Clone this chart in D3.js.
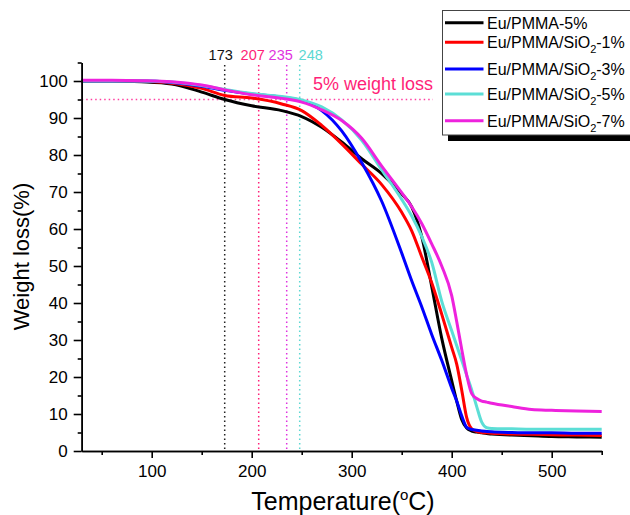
<!DOCTYPE html>
<html>
<head>
<meta charset="utf-8">
<script src="https://cdn.jsdelivr.net/npm/d3@7/dist/d3.min.js"></script>
<style>
  html, body { margin: 0; padding: 0; background: #fff; }
  svg { display: block; font-family: "Liberation Sans", Arial, sans-serif; }
</style>
</head>
<body>
<svg id="chart" width="630" height="515"></svg>
<script>
// TGA curves: temperature grid (°C) and residual weight (%) per sample
const temps = [30, 60, 90, 120, 150, 173, 200, 230, 250, 270, 290, 310, 330, 350, 360, 370,
               380, 390, 400, 405, 410, 415, 420, 425, 430, 435, 440, 460, 480, 500, 525, 550];

const pmma5 = [100, 100, 99.8, 99.2, 97, 95, 93.3, 92, 90.4, 87.5, 83.5, 79, 75, 69.5, 66, 58,
               44.5, 30.5, 19, 13.5, 8.5, 6.2, 5.4, 5.1, 4.9, 4.7, 4.6, 4.3, 4.1, 3.9, 3.8, 3.7];
const sio2_1 = [100, 100, 99.9, 99.4, 98, 96.1, 95.4, 93.8, 92, 88, 83, 77.5, 72, 64.5, 59.5, 52.5,
                45.5, 37, 28, 23.5, 16.5, 9, 6, 5.3, 5.0, 4.9, 4.8, 4.6, 4.5, 4.4, 4.3, 4.2];
const sio2_3 = [100, 100, 100, 99.6, 98.6, 97.5, 96.5, 95.6, 94.7, 92, 86.5, 78, 67.5, 53.5, 46, 39,
                31.5, 24.5, 17, 13.5, 9.5, 6.4, 5.8, 5.6, 5.4, 5.3, 5.2, 5.0, 4.9, 4.9, 4.8, 4.8];
const sio2_5 = [100, 100, 100, 99.7, 98.8, 97.7, 96.6, 95.8, 94.9, 93, 89.5, 84, 76, 68, 63.5, 58,
                51, 40.5, 32.5, 28.5, 24.5, 20.5, 16.5, 12, 7.8, 6.3, 6.1, 6.0, 5.9, 5.9, 5.9, 5.9];
const sio2_7 = [100.2, 100.2, 100.1, 99.8, 98.9, 97.6, 96.3, 95.3, 94.3, 92.2, 89.3, 84.5, 77, 69.8, 66, 61.5,
                56, 50, 42, 35, 27.5, 20.5, 15.5, 14.2, 13.5, 13.2, 12.9, 12, 11.2, 11, 10.8, 10.7];

const seriesNames = ["Eu/PMMA-5%", "Eu/PMMA/SiO2-1%", "Eu/PMMA/SiO2-3%", "Eu/PMMA/SiO2-5%", "Eu/PMMA/SiO2-7%"];
const seriesValues = [pmma5, sio2_1, sio2_3, sio2_5, sio2_7];
const seriesColors = ["#000000", "#ff0000", "#0000ff", "#5cded6", "#ee22dd"];

// temperatures at 5% weight loss
const onsetTemps = [173, 207, 235, 248];
const onsetColors = ["#222222", "#ff1f78", "#e033e0", "#5cd8d2"];
const lossLevel = 95;

const xTicks = [100, 200, 300, 400, 500];
const yTicks = [0, 10, 20, 30, 40, 50, 60, 70, 80, 90, 100];

const svg = d3.select("#chart");
svg.append("rect").attr("width", 630).attr("height", 515).attr("fill", "#fff");

const x = d3.scaleLinear().domain([30, 550]).range([81.7, 601.7]);
const y = d3.scaleLinear().domain([0, 105]).range([451, 62.5]);

// reference lines
svg.append("line")
  .attr("x1", x(30)).attr("x2", 433)
  .attr("y1", y(lossLevel)).attr("y2", y(lossLevel))
  .attr("stroke", "#ff3fa0").attr("stroke-width", 1.5)
  .attr("stroke-dasharray", "1.5,3");

const labelNudge = [-4, -6, -6, 11];
onsetTemps.forEach((t, i) => {
  svg.append("line")
    .attr("x1", x(t)).attr("x2", x(t))
    .attr("y1", 65).attr("y2", y(0))
    .attr("stroke", onsetColors[i]).attr("stroke-width", 1.5)
    .attr("stroke-dasharray", "1.5,3");
  svg.append("text")
    .attr("x", x(t) + labelNudge[i]).attr("y", 59.5)
    .attr("text-anchor", "middle")
    .attr("font-size", 14.5)
    .attr("fill", i === 0 ? "#111" : onsetColors[i])
    .text(t);
});

svg.append("text")
  .attr("x", 313).attr("y", 90)
  .attr("font-size", 18)
  .attr("fill", "#ff1f78")
  .text("5% weight loss");

// curves
const line = d3.line()
  .x(d => x(d[0]))
  .y(d => y(d[1]))
  .curve(d3.curveMonotoneX);

seriesValues.forEach((vals, i) => {
  svg.append("path")
    .datum(temps.map((t, k) => [t, vals[k]]))
    .attr("fill", "none")
    .attr("stroke", seriesColors[i])
    .attr("stroke-width", 3)
    .attr("stroke-linejoin", "round")
    .attr("d", line);
});

// axes
const axisStyle = g => {
  g.selectAll("path, line").attr("stroke", "#000").attr("stroke-width", 1.6);
  g.selectAll("text").attr("font-size", 17).attr("fill", "#000")
    .attr("font-family", "Liberation Sans, Arial, sans-serif");
};

const xMinor = d3.range(50, 551, 100);
const yMinor = d3.range(5, 106, 10);

svg.append("g").attr("transform", `translate(0,${y(0)})`)
  .call(d3.axisBottom(x).tickValues(xMinor).tickSize(4).tickFormat("").tickSizeOuter(0))
  .call(axisStyle);
svg.append("g").attr("transform", `translate(0,${y(0)})`)
  .call(d3.axisBottom(x).tickValues(xTicks).tickSize(7).tickPadding(7).tickSizeOuter(0))
  .call(axisStyle);

svg.append("g").attr("transform", `translate(${x(30)},0)`)
  .call(d3.axisLeft(y).tickValues(yMinor).tickSize(4).tickFormat("").tickSizeOuter(0))
  .call(axisStyle);
svg.append("g").attr("transform", `translate(${x(30)},0)`)
  .call(d3.axisLeft(y).tickValues(yTicks).tickSize(8).tickPadding(6).tickSizeOuter(0))
  .call(axisStyle);

// axis titles
svg.append("text")
  .attr("transform", "translate(29,256.5) rotate(-90)")
  .attr("text-anchor", "middle")
  .attr("font-size", 22)
  .text("Weight loss(%)");

const xt = svg.append("text")
  .attr("x", 343).attr("y", 510)
  .attr("text-anchor", "middle")
  .attr("font-size", 25);
xt.append("tspan").text("Temperature(");
xt.append("tspan").attr("font-size", 15).attr("dy", -10).text("o");
xt.append("tspan").attr("dy", 10).text("C)");

// legend
const lg = svg.append("g");
lg.append("rect").attr("x", 448).attr("y", 16.5).attr("width", 200).attr("height", 124.5).attr("fill", "#000");
lg.append("rect").attr("x", 442.5).attr("y", 10.5).attr("width", 200).attr("height", 124.5)
  .attr("fill", "#fff").attr("stroke", "#444").attr("stroke-width", 1);

const rowY = [22.7, 42.3, 69, 94, 120.7];
seriesNames.forEach((name, i) => {
  lg.append("line")
    .attr("x1", 445).attr("x2", 483.5)
    .attr("y1", rowY[i]).attr("y2", rowY[i])
    .attr("stroke", seriesColors[i]).attr("stroke-width", 3);
  const t = lg.append("text")
    .attr("x", 487).attr("y", rowY[i] + 6)
    .attr("font-size", 16);
  const m = name.match(/^(.*SiO)2(.*)$/);
  if (m) {
    t.append("tspan").text(m[1]);
    t.append("tspan").attr("font-size", 11).attr("dy", 5).text("2");
    t.append("tspan").attr("dy", -5).text(m[2]);
  } else {
    t.text(name);
  }
});
</script>
</body>
</html>
